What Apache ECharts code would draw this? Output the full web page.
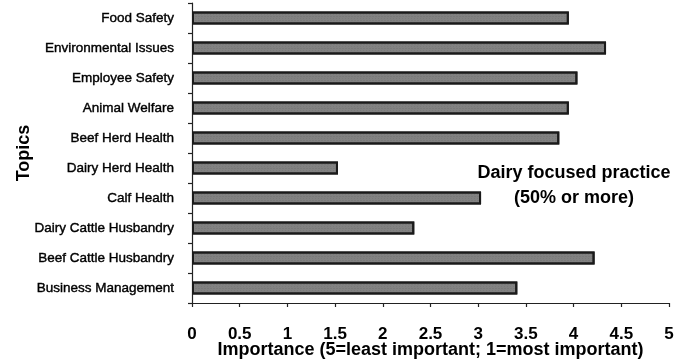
<!DOCTYPE html>
<html>
<head>
<meta charset="utf-8">
<script src="https://cdn.jsdelivr.net/npm/echarts@6/dist/echarts.min.js"></script>
<style>
html,body{margin:0;padding:0;background:#fff;}
#chart{width:690px;height:362px;}
</style>
</head>
<body>
<div id="chart"></div>
<script>
var categories = ["Food Safety","Environmental Issues","Employee Safety","Animal Welfare","Beef Herd Health","Dairy Herd Health","Calf Health","Dairy Cattle Husbandry","Beef Cattle Husbandry","Business Management"];
var importance = [3.95, 4.34, 4.04, 3.95, 3.85, 1.53, 3.03, 2.33, 4.22, 3.41];
var xTicks = [0, 0.5, 1, 1.5, 2, 2.5, 3, 3.5, 4, 4.5, 5];
var xAxisTitle = "Importance (5=least important; 1=most important)";
var yAxisTitle = "Topics";
var noteLines = ["Dairy focused practice", "(50% or more)"];

var chart = echarts.init(document.getElementById('chart'), null, {renderer:'canvas'});
var font = '"Liberation Sans", Arial, sans-serif';
chart.setOption({
  animation: false,
  backgroundColor: '#ffffff',
  grid: {left: 192, right: 21, top: 3, bottom: 59, containLabel: false, outerBoundsMode: 'none'},
  xAxis: {
    type: 'value',
    min: xTicks[0],
    max: xTicks[xTicks.length - 1],
    interval: xTicks[1] - xTicks[0],
    axisLine: {show: true, lineStyle: {color: '#222', width: 1.2}},
    axisTick: {show: true, length: 4, lineStyle: {color: '#222', width: 1.2}},
    splitLine: {show: false},
    axisLabel: {margin: 23, color: '#000', fontSize: 17, fontWeight: 'bold', fontFamily: font},
    name: xAxisTitle,
    nameLocation: 'middle',
    nameGap: 38,
    nameMoveOverlap: false,
    nameTextStyle: {color: '#000', fontSize: 18, fontWeight: 'bold', fontFamily: font}
  },
  yAxis: {
    type: 'category',
    data: categories,
    inverse: true,
    axisLine: {show: true, lineStyle: {color: '#222', width: 1.2}},
    axisTick: {show: true, length: 4, lineStyle: {color: '#222', width: 1.2}},
    axisLabel: {margin: 18, color: '#000', fontSize: 13.5, fontFamily: font,
      textBorderColor: '#000', textBorderWidth: 0.4},
    name: yAxisTitle,
    nameLocation: 'middle',
    nameRotate: 90,
    nameGap: 159,
    nameMoveOverlap: false,
    nameTextStyle: {color: '#000', fontSize: 18, fontWeight: 'bold', fontFamily: font}
  },
  series: [{
    type: 'bar',
    data: importance,
    barWidth: 13,
    itemStyle: {
      color: '#828282',
      borderColor: '#1a1a1a',
      borderWidth: 2,
      decal: {
        symbol: 'rect',
        symbolSize: 0.6,
        color: 'rgba(50,50,50,0.3)',
        dashArrayX: [[1, 2], [2, 1]],
        dashArrayY: [1, 1],
        rotation: 0
      }
    }
  }],
  graphic: [{
    type: 'text',
    style: {
      text: noteLines.join('\n'),
      x: 574, y: 161,
      textAlign: 'center',
      font: 'bold 18px ' + font,
      lineHeight: 25,
      fill: '#000'
    }
  }]
});
</script>
</body>
</html>
